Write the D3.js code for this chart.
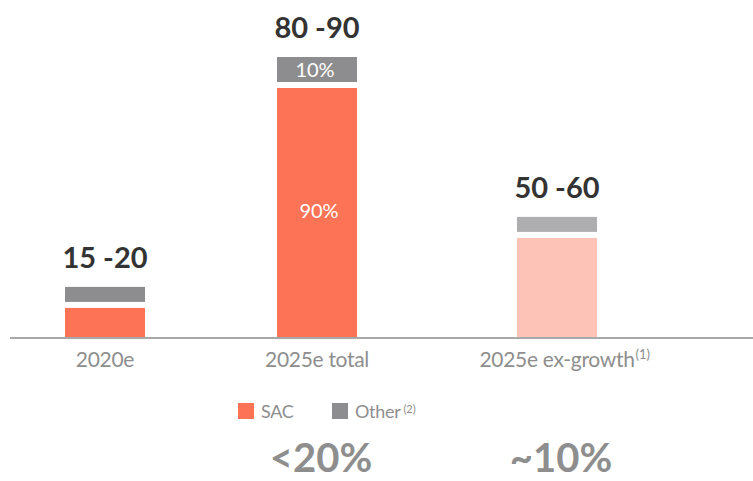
<!DOCTYPE html>
<html>
<head>
<meta charset="utf-8">
<script src="https://cdn.jsdelivr.net/npm/d3@7"></script>
<style>
  html, body { margin: 0; padding: 0; background: #ffffff; }
  svg { display: block; font-family: Lato, "Open Sans", sans-serif; }
</style>
</head>
<body>
<script>
// Market size by scenario, split between SAC and other players
const categories   = ["2020e", "2025e total", "2025e ex-growth"];
const catNotes     = ["", "", "(1)"];
const rangeLabels  = ["15 -20", "80 -90", "50 -60"];
const barTotals    = [17.9, 100, 42.9];      // relative bar height
const sacShare     = [0.64, 0.90, 0.85];     // share of each bar held by SAC
const shareShown   = [false, true, false];   // bars that print their split
const bottomLabels = ["", "<20%", "~10%"];
const seriesNames  = ["SAC", "Other"];
const seriesNotes  = ["", "(2)"];

const W = 753, H = 481;
const colors = {
  sac: "#fd7356", other: "#8d8d8f",
  sacFaded: "#fcc3b6", otherFaded: "#aeaeb0",
  dark: "#333333", muted: "#8e8e8e", axis: "#a8a8a8"
};
const fadedCategory = "2025e ex-growth";

const svg = d3.select("body").append("svg")
  .attr("width", W).attr("height", H);

const y = d3.scaleLinear().domain([0, 100]).range([337, 57]);
const x = d3.scaleOrdinal().domain(categories).range([105, 317, 557]);
const barW = 80, gap = 6;
const pct = d3.format(".0%");

const rows = categories.map((c, i) => {
  const split = barTotals[i] * sacShare[i];
  return { c, i, total: barTotals[i], split, faded: c === fadedCategory };
});

const g = svg.append("g");

// SAC segment (bottom)
g.selectAll("rect.sac").data(rows).join("rect")
  .attr("class", "sac")
  .attr("x", d => x(d.c) - barW / 2)
  .attr("width", barW)
  .attr("y", d => y(d.split) + gap / 2)
  .attr("height", d => y(0) - y(d.split) - gap / 2)
  .attr("fill", d => d.faded ? colors.sacFaded : colors.sac);

// Other segment (top)
g.selectAll("rect.other").data(rows).join("rect")
  .attr("class", "other")
  .attr("x", d => x(d.c) - barW / 2)
  .attr("width", barW)
  .attr("y", d => y(d.total))
  .attr("height", d => y(d.split) - y(d.total) - gap / 2)
  .attr("fill", d => d.faded ? colors.otherFaded : colors.other);

// split labels inside the bar
const shown = rows.filter(d => shareShown[d.i]);
g.selectAll("text.sacPct").data(shown).join("text")
  .attr("x", d => x(d.c) + 2)
  .attr("y", d => (y(0) + y(d.split)) / 2)
  .attr("dy", "0.35em")
  .attr("text-anchor", "middle")
  .attr("fill", "#ffffff")
  .attr("font-size", 20)
  .text(d => pct(sacShare[d.i]));
g.selectAll("text.otherPct").data(shown).join("text")
  .attr("x", d => x(d.c) - 2)
  .attr("y", d => (y(d.total) + y(d.split) - gap / 2) / 2)
  .attr("dy", "0.35em")
  .attr("text-anchor", "middle")
  .attr("fill", "#ffffff")
  .attr("font-size", 20)
  .text(d => pct(1 - sacShare[d.i]));

// range labels above each bar
g.selectAll("text.range").data(rows).join("text")
  .attr("x", d => x(d.c))
  .attr("y", d => y(d.total) - 19)
  .attr("text-anchor", "middle")
  .attr("fill", colors.dark)
  .attr("font-size", 29)
  .attr("font-weight", 700)
  .text(d => rangeLabels[d.i]);

// baseline
svg.append("line")
  .attr("x1", 10).attr("x2", W)
  .attr("y1", y(0) + 1).attr("y2", y(0) + 1)
  .attr("stroke", colors.axis).attr("stroke-width", 2);

// category labels
rows.forEach(d => {
  const t = svg.append("text")
    .attr("x", x(d.c))
    .attr("y", 367)
    .attr("text-anchor", "middle")
    .attr("fill", colors.muted)
    .attr("font-size", 21)
    .attr("letter-spacing", -0.3)
    .text(d.c);
  if (catNotes[d.i]) {
    const w = t.node().getComputedTextLength();
    svg.append("text")
      .attr("x", x(d.c) + w / 2 + 1)
      .attr("y", 359)
      .attr("fill", colors.muted)
      .attr("font-size", 13)
      .text(catNotes[d.i]);
  }
});

// legend
const legendX = [238, 332];
const legendColors = [colors.sac, colors.other];
seriesNames.forEach((name, i) => {
  svg.append("rect")
    .attr("x", legendX[i]).attr("y", 403)
    .attr("width", 16).attr("height", 16)
    .attr("fill", legendColors[i]);
  const t = svg.append("text")
    .attr("x", legendX[i] + 23).attr("y", 418)
    .attr("fill", colors.muted)
    .attr("font-size", 18)
    .attr("letter-spacing", -0.3)
    .text(name);
  if (seriesNotes[i]) {
    const w = t.node().getComputedTextLength();
    svg.append("text")
      .attr("x", legendX[i] + 23 + w + 3).attr("y", 413)
      .attr("fill", colors.muted)
      .attr("font-size", 11)
      .text(seriesNotes[i]);
  }
});

// penetration figures under the 2025 scenarios
svg.selectAll("text.bottom").data(rows.filter(d => bottomLabels[d.i])).join("text")
  .attr("x", d => x(d.c) + 4)
  .attr("y", 472)
  .attr("text-anchor", "middle")
  .attr("fill", colors.muted)
  .attr("font-size", 40)
  .attr("font-weight", 700)
  .text(d => bottomLabels[d.i]);
</script>
</body>
</html>
